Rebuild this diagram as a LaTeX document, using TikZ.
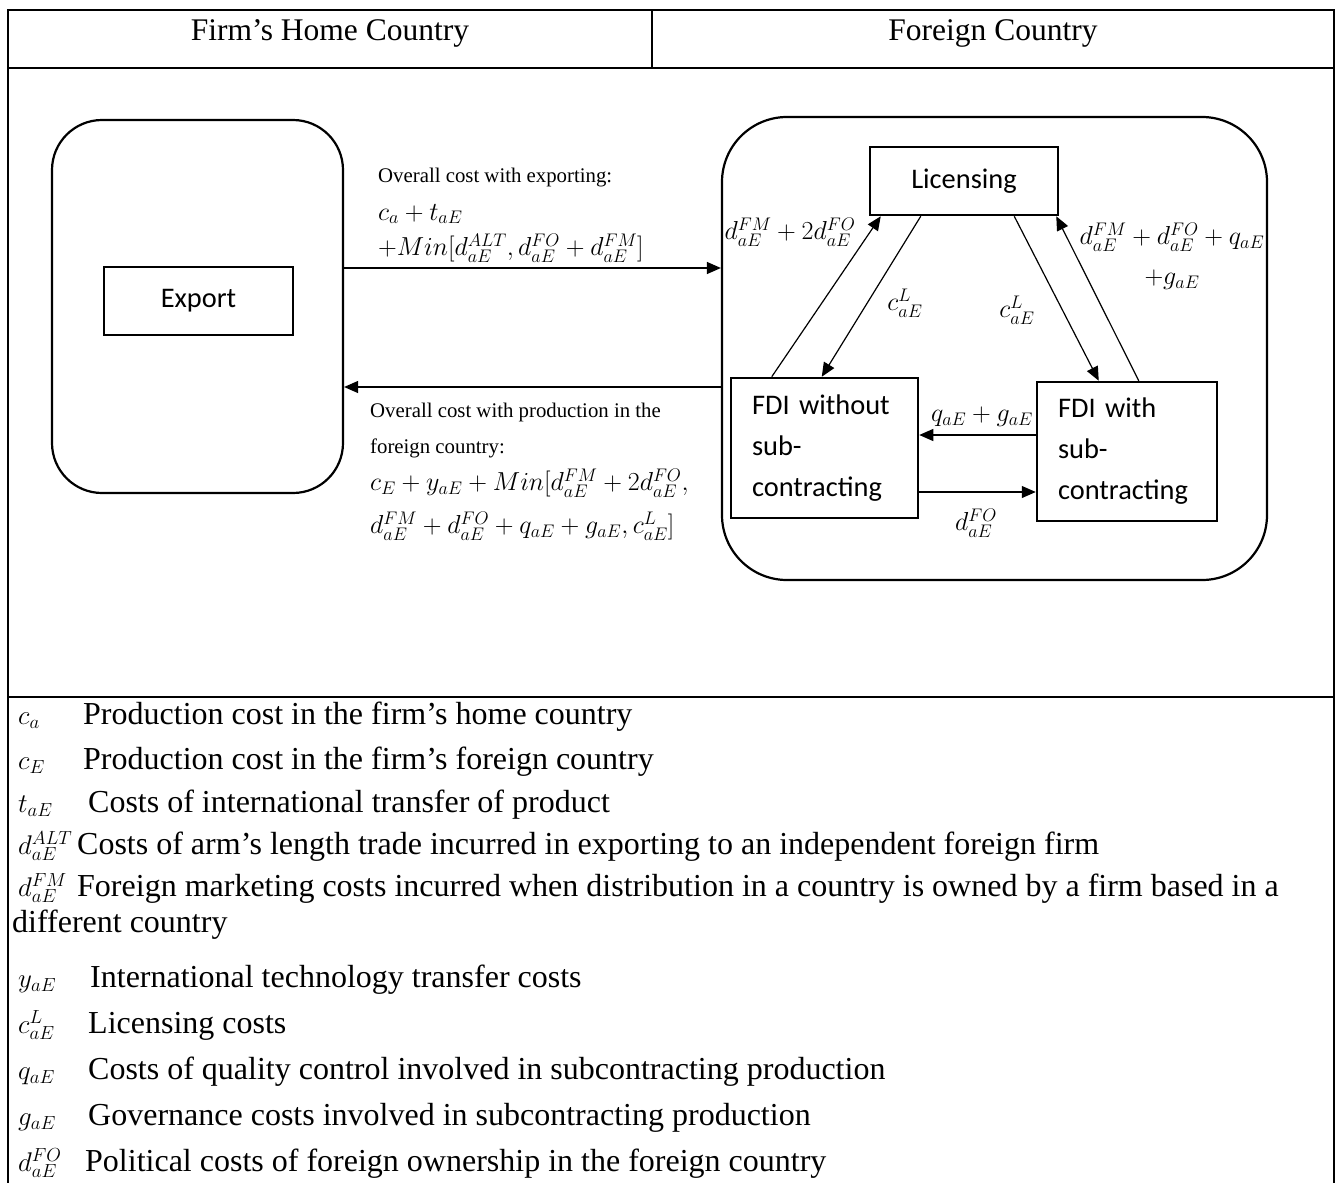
\RequirePackage{fix-cm}
\documentclass[tikz,border=0pt]{standalone}
\usepackage{fontspec}
\setmainfont{Liberation Serif}
\newfontfamily\calib{Carlito}
\usetikzlibrary{arrows.meta}
\begin{document}
\begin{tikzpicture}[x=1pt,y=-1pt,
  tline/.style={line width=2pt},
  rbox/.style={draw, line width=2.2pt, inner sep=0pt},
  cbox/.style={draw, line width=2.5pt, font=\calib\fontsize{28.4}{41}\selectfont, inner sep=0pt},
  arr/.style={line width=1.2pt, -{Triangle[length=14pt,width=12pt]}},
  lab/.style={font=\fontsize{20.8}{25}\selectfont, inner sep=0pt, anchor=west},
  mth/.style={font=\fontsize{26}{30}\selectfont, inner sep=0pt},
  legsym/.style={font=\fontsize{27}{32}\selectfont, inner sep=0pt, anchor=base west},
  legtxt/.style={font=\fontsize{32}{36}\selectfont, inner sep=0pt, anchor=base west},
  hdr/.style={font=\fontsize{31.5}{36}\selectfont, inner sep=0pt}
]
\useasboundingbox (0,0) rectangle (1341,1183);
\fill[white] (0,0) rectangle (1341,1183);
% table
\draw[tline] (8,1183) -- (8,10) -- (1334,10) -- (1334,1183);
\draw[tline] (8,68) -- (1334,68);
\draw[tline] (652,10) -- (652,68);
\draw[tline] (8,697) -- (1334,697);
\node[hdr] (hhome) at (330,33) {Firm’s Home Country};
\node[hdr] (hfor) at (993,33) {Foreign Country};
% boxes
\node[rbox, rounded corners=50pt, minimum width=291pt, minimum height=373pt] (home) at (197.5,306.5) {};
\node[cbox, minimum width=189pt, minimum height=68pt] (export) at (198.5,301) {Export};
\node[rbox, rounded corners=65pt, minimum width=545pt, minimum height=463pt] (foreign) at (994.5,348.5) {};
\node[cbox, minimum width=188pt, minimum height=68pt] (lic) at (964,181) {Licensing};
\node[cbox, minimum width=187pt, minimum height=140pt, align=left, text width=145pt] (fdiwo) at (824.5,448) {FDI without\\sub-\\contracting};
\node[cbox, minimum width=180pt, minimum height=139pt, align=left, text width=138pt] (fdiw) at (1127,451.5) {FDI with\\sub-\\contracting};
% connectors
\coordinate (ya) at (0,268);
\coordinate (yb) at (0,387);
\coordinate (yc) at (0,435);
\coordinate (yd) at (0,492);
\draw[arr] (home.east |- ya) -- (foreign.west |- ya);
\draw[arr] (foreign.west |- yb) -- (home.east |- yb);
\draw[arr] ([xshift=42pt]fdiwo.north west) -- ([xshift=12pt]lic.south west);
\draw[arr] ([xshift=52pt]lic.south west) -- ([xshift=92pt]fdiwo.north west);
\draw[arr] ([xshift=-45pt]lic.south east) -- ([xshift=63pt]fdiw.north west);
\draw[arr] ([xshift=103pt]fdiw.north west) -- ([xshift=-3pt]lic.south east);
\draw[arr] (fdiw.west |- yc) -- (fdiwo.east |- yc);
\draw[arr] (fdiwo.east |- yd) -- (fdiw.west |- yd);
% labels left
\node[lab] (l1) at (378,178) {Overall cost with exporting:};
\node[mth, anchor=west] (l2) at (378,214) {$c_a + t_{aE}$};
\node[mth, anchor=west] (l3) at (378,248) {$+Min[d_{aE}^{ALT}, d_{aE}^{FO} + d_{aE}^{FM}]$};
\node[lab] (l4) at (370,412) {Overall cost with production in the};
\node[lab] (l5) at (370,448) {foreign country:};
\node[mth, anchor=west] (l6) at (370,483) {$c_E + y_{aE} + Min[d_{aE}^{FM} + 2d_{aE}^{FO},$};
\node[mth, anchor=west] (l7) at (370,526) {$d_{aE}^{FM} + d_{aE}^{FO} + q_{aE} + g_{aE}, c_{aE}^{L}]$};
% labels right
\node[mth] (m1) at (790,232) {$d_{aE}^{FM} + 2d_{aE}^{FO}$};
\node[mth] (m2) at (905,303) {$c_{aE}^{L}$};
\node[mth] (m3) at (1017,310) {$c_{aE}^{L}$};
\node[mth] (m4) at (1172,237) {$d_{aE}^{FM} + d_{aE}^{FO} + q_{aE}$};
\node[mth] (m5) at (1172,280) {$+g_{aE}$};
\node[mth] (m6) at (982,417) {$q_{aE} + g_{aE}$};
\node[mth] (m7) at (976,523) {$d_{aE}^{FO}$};
% legend
\node[legsym] (s1) at (18,724) {$c_a$};
\node[legtxt] (t1) at (83,724) {Production cost in the firm’s home country};
\node[legsym] (s2) at (18,769) {$c_E$};
\node[legtxt] (t2) at (83,769) {Production cost in the firm’s foreign country};
\node[legsym] (s3) at (18,812) {$t_{aE}$};
\node[legtxt] (t3) at (88,812) {Costs of international transfer of product};
\node[legsym] (s4) at (18,854) {$d_{aE}^{ALT}$};
\node[legtxt] (t4) at (77,854) {Costs of arm’s length trade incurred in exporting to an independent foreign firm};
\node[legsym] (s5) at (18,896) {$d_{aE}^{FM}$};
\node[legtxt] (t5) at (77,896) {Foreign marketing costs incurred when distribution in a country is owned by a firm based in a};
\node[legtxt] (t5b) at (12,932) {different country};
\node[legsym] (s6) at (18,987) {$y_{aE}$};
\node[legtxt] (t6) at (90,987) {International technology transfer costs};
\node[legsym] (s7) at (18,1033) {$c_{aE}^{L}$};
\node[legtxt] (t7) at (88,1033) {Licensing costs};
\node[legsym] (s8) at (18,1079) {$q_{aE}$};
\node[legtxt] (t8) at (88,1079) {Costs of quality control involved in subcontracting production};
\node[legsym] (s9) at (18,1125) {$g_{aE}$};
\node[legtxt] (t9) at (88,1125) {Governance costs involved in subcontracting production};
\node[legsym] (s10) at (18,1171) {$d_{aE}^{FO}$};
\node[legtxt] (t10) at (85,1171) {Political costs of foreign ownership in the foreign country};
\end{tikzpicture}
\end{document}
